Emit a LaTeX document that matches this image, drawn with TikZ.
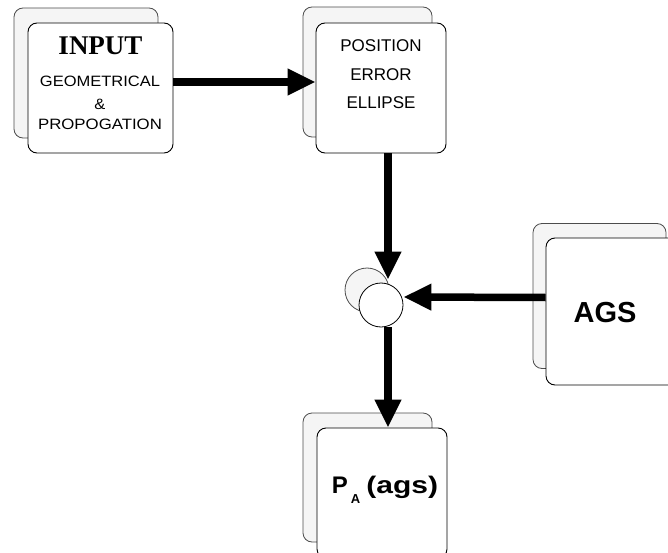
\documentclass[tikz,border=0pt]{standalone}
\usepackage{fontspec}
\setmainfont{Liberation Sans}
\newfontfamily\inputfont{Liberation Serif}
\usetikzlibrary{arrows.meta}
\begin{document}
\begin{tikzpicture}[x=1pt,y=-1pt,
  frontbox/.style={draw=black, line width=0.9pt, fill=white, rounded corners=9pt, inner sep=0pt},
  backbox/.style={draw=black!70, line width=0.8pt, fill=black!4, rounded corners=9pt, inner sep=0pt},
  frontcirc/.style={circle, draw=black, line width=0.8pt, fill=white, minimum size=44pt, inner sep=0pt},
  backcirc/.style={circle, draw=black!70, line width=0.8pt, fill=black!4, minimum size=44pt, inner sep=0pt},
  flow/.style={line width=7.5pt, -{Triangle[length=28pt,width=25pt]}},
  txt/.style={anchor=base, inner sep=0pt},
  small/.style={font=\fontsize{15}{15}\selectfont},
  mid/.style={font=\fontsize{17}{17}\selectfont},
]
\useasboundingbox (0,0) rectangle (668,553);
% back boxes
\node[backbox, minimum width=144pt, minimum height=130pt] (inputb) at (86,73) {};
\node[backbox, minimum width=129pt, minimum height=130pt] (posb) at (367.5,72) {};
\node[backbox, minimum width=133pt, minimum height=145pt] (agsb) at (599.5,296) {};
\node[backbox, minimum width=129pt, minimum height=129pt] (pab) at (367.5,477.5) {};
% front boxes
\node[frontbox, minimum width=145pt, minimum height=130pt] (input) at (100.5,88) {};
\node[frontbox, minimum width=130pt, minimum height=130pt] (pos) at (381,88) {};
\node[frontbox, minimum width=134pt, minimum height=147pt] (ags) at (613,311.5) {};
\node[frontbox, minimum width=130pt, minimum height=130pt] (pa) at (382,493) {};
% circles
\node[backcirc] (circb) at (367,290) {};
\node[frontcirc] (circ) at (381,305) {};
% arrows
\draw[flow] ([yshift=6pt]input.east) -- ([yshift=6pt]pos.west);
\draw[flow] ([xshift=7pt]pos.south) -- ([xshift=7pt,yshift=3pt]circ.north);
\draw[flow] ([yshift=14pt]ags.west) -- ([yshift=8pt]circ.east);
\draw[flow] ([xshift=7pt]circ.south) -- ([xshift=6pt]pa.north);
% texts
\node[txt, font=\inputfont\bfseries\fontsize{27}{27}\selectfont] (tinput) at (100.5,55) {INPUT};
\node[txt, small] (tgeo) at (100,87) {\scalebox{1.1}[1]{GEOMETRICAL}};
\node[txt, small] (tamp) at (100,110) {\scalebox{1.1}[1]{\&}};
\node[txt, small] (tprop) at (100,130) {\scalebox{1.12}[1]{PROPOGATION}};
\node[txt, mid] (tpos) at (381,52) {POSITION};
\node[txt, mid] (terr) at (381,81) {ERROR};
\node[txt, mid] (tell) at (381,109) {ELLIPSE};
\node[txt, font=\bfseries\fontsize{29}{29}\selectfont] (tags) at (605,322) {AGS};
\node[txt, font=\bfseries\fontsize{24}{24}\selectfont] (tpa) at (385,493) {P\hspace{3pt}\raisebox{-10pt}{\fontsize{13}{13}\selectfont A}\hspace{6pt}\scalebox{1.25}[1]{(ags)}};
\end{tikzpicture}
\end{document}
